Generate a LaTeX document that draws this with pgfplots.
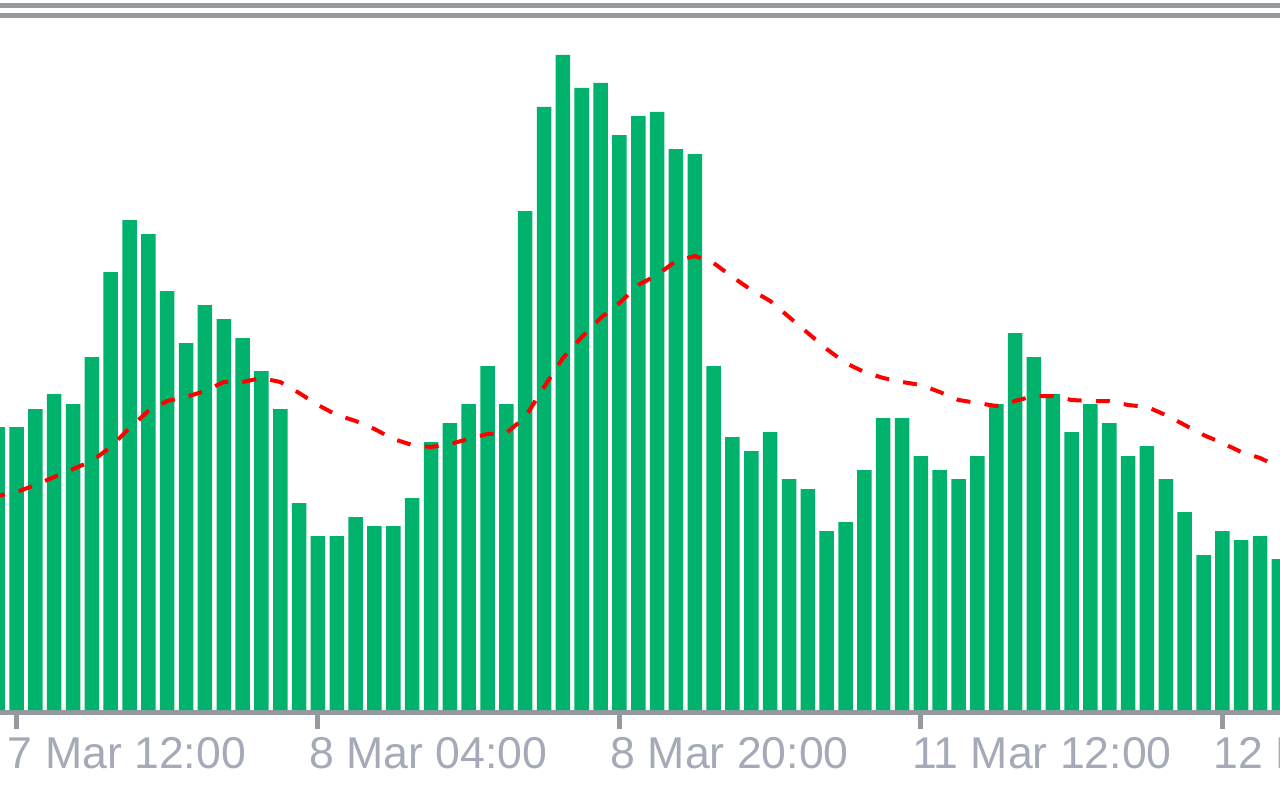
\documentclass[border=0pt]{standalone}
\usepackage{pgfplots}
\pgfplotsset{compat=1.18}
\usepackage{pgfplotstable}
\usepackage{fontspec}
\setmainfont{Liberation Sans}
\definecolor{volgreen}{RGB}{0,178,107}
\definecolor{axgray}{RGB}{150,152,160}
\definecolor{lblgray}{RGB}{165,170,184}

% tick volume per H1 bar (bar -1 and 67 are cut by the frame)
\pgfplotstableread{
i v
-1 283
0 283
1 301
2 316
3 306
4 353
5 438
6 490
7 476
8 419
9 367
10 405
11 391
12 372
13 339
14 301
15 207
16 174
17 174
18 193
19 184
20 184
21 212
22 268
23 287
24 306
25 344
26 306
27 499
28 603
29 655
30 622
31 627
32 575
33 594
34 598
35 561
36 556
37 344
38 273
39 259
40 278
41 231
42 221
43 179
44 188
45 240
46 292
47 292
48 254
49 240
50 231
51 254
52 306
53 377
54 353
55 316
56 278
57 306
58 287
59 254
60 264
61 231
62 198
63 155
64 179
65 170
66 174
67 151
}\vol

% moving average of the volume
\pgfplotstableread{
i ma
-1 214
0 218
1 225
2 233
3 241
4 249
5 263
6 282
7 299
8 309
9 313
10 319
11 328
12 328
13 332
14 328
15 317
16 305
17 295
18 289
19 281
20 271
21 265
22 263
23 266
24 271
25 276
26 277
27 293
28 323
29 352
30 373
31 392
32 407
33 425
34 435
35 449
36 454
37 447
38 433
39 420
40 409
41 393
42 377
43 361
44 347
45 338
46 332
47 328
48 325
49 318
50 310
51 307
52 304
53 309
54 314
55 314
56 310
57 309
58 309
59 305
60 303
61 295
62 285
63 275
64 267
65 258
66 252
67 243
}\mavg

\begin{document}
\begin{tikzpicture}
\useasboundingbox (0,0) rectangle (640pt,400pt);
\draw[axgray, line width=2.4pt] (0,397.25pt) -- (640pt,397.25pt);
\draw[axgray, line width=2.4pt] (0,392.25pt) -- (640pt,392.25pt);
\begin{axis}[
    at={(0,43.75pt)}, anchor=south west,
    scale only axis,
    width=640pt, height=356.25pt,
    xmin=-0.876, xmax=67.06,
    ymin=-2.5, ymax=710,
    axis x line*=bottom,
    axis y line=none,
    x axis line style={-, draw=axgray, line width=2.5pt},
    xtick={0,16,32,48,64},
    xticklabels={7 Mar 12:00, 8 Mar 04:00, 8 Mar 20:00, 11 Mar 12:00, 12 Mar 04:00},
    xtick style={draw=axgray, line width=2.5pt},
    tick align=outside,
    major tick length=8.25pt,
    xticklabel style={anchor=north west, xshift=-4.5pt, yshift=-4pt,
        font=\fontsize{22.3}{26}\selectfont, text=lblgray, inner sep=0pt},
    ytick=\empty,
]
\addplot[ybar, bar width=0.77, fill=volgreen, draw=none] table[x=i, y=v] {\vol};
\addplot[red, line width=2pt, line cap=butt, dash pattern=on 7pt off 7.15pt,
    dash phase=3.35pt, mark=none] table[x=i, y=ma] {\mavg};
\end{axis}
\end{tikzpicture}
\end{document}
